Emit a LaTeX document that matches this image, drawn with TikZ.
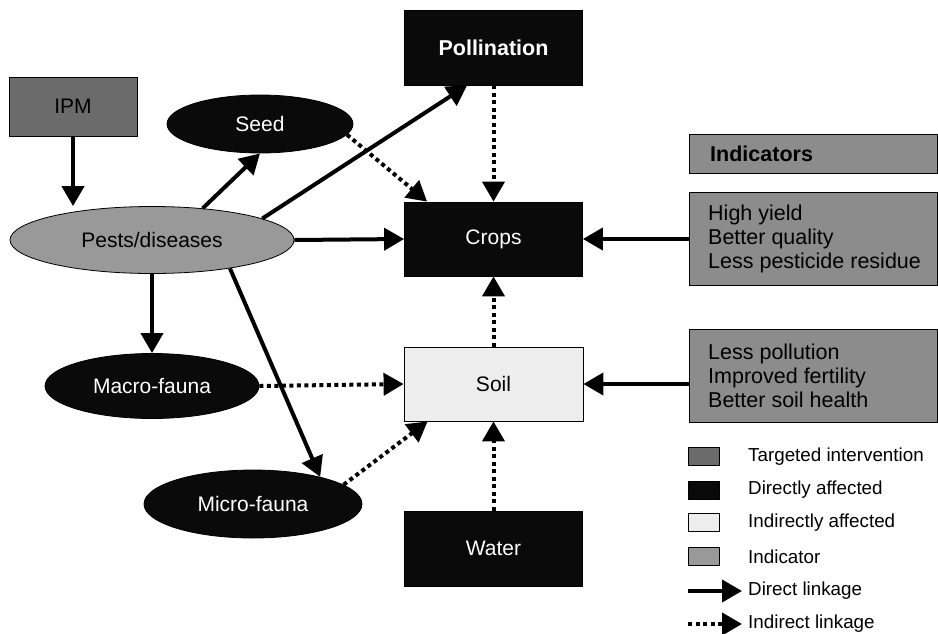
\documentclass[tikz,border=0pt]{standalone}
\usepackage{fontspec}
\setmainfont{Liberation Sans}
\usetikzlibrary{arrows.meta,calc,shapes.geometric}

\definecolor{ipmgray}{gray}{0.42}
\definecolor{pestgray}{gray}{0.60}
\definecolor{indgray}{gray}{0.55}
\definecolor{soilgray}{gray}{0.93}
\definecolor{nearblack}{gray}{0.04}

\begin{document}
\begin{tikzpicture}[x=1pt,y=-1pt,
  every node/.style={font=\fontsize{21}{24}\selectfont, inner sep=0pt},
  boxnode/.style={draw=black, line width=0.8pt, minimum width=178pt, minimum height=75pt},
  darkbox/.style={boxnode, fill=nearblack, text=white},
  ovalnode/.style={ellipse, draw=black, line width=0.8pt},
  darkoval/.style={ovalnode, fill=nearblack, text=white},
  indbox/.style={draw=black, line width=0.8pt, fill=indgray, anchor=north west,
    minimum width=248pt},
  indtext/.style={anchor=west, align=left, font=\fontsize{21.5}{24.3}\selectfont},
  swatch/.style={draw=black, line width=1pt, minimum width=31pt, minimum height=18pt},
  legtext/.style={anchor=west, font=\fontsize{18.8}{22}\selectfont},
  direct/.style={line width=4pt, -{Triangle[width=22pt,length=20pt]}},
  indirect/.style={direct, dash pattern=on 4pt off 3.5pt}
]
\path[use as bounding box] (0,0) rectangle (938,633);

% intervention and pest nodes
\node[boxnode, fill=ipmgray, minimum width=128pt, minimum height=59pt] (ipm) at (73,106.5) {IPM};
\node[ovalnode, fill=pestgray, minimum width=284pt, minimum height=67pt] (pests) at (152,240) {Pests/diseases};
\node[darkoval, minimum width=186pt, minimum height=58pt] (seed) at (260,124) {Seed};
\node[darkoval, minimum width=214pt, minimum height=65pt] (macro) at (152,386) {Macro-fauna};
\node[darkoval, minimum width=218pt, minimum height=68pt] (micro) at (253,504) {Micro-fauna};

% affected components
\node[darkbox, font=\bfseries\fontsize{21.5}{24}\selectfont] (poll) at (493.5,47.5) {Pollination};
\node[darkbox, minimum height=74pt] (crops) at (493.5,239) {Crops};
\node[boxnode, fill=soilgray, minimum width=179pt, minimum height=74pt] (soil) at (493.5,384) {Soil};
\node[darkbox] (water) at (493.5,548.5) {Water};

% indicators
\node[indbox, minimum height=39pt] (indhead) at (689,134) {};
\node[indtext, font=\bfseries\fontsize{21.5}{24}\selectfont] (indheadtext) at ([xshift=21pt]indhead.west) {Indicators};
\node[indbox, minimum height=93pt] (indcrops) at (689,192) {};
\node[indtext] (indcropstext) at ([xshift=19pt]indcrops.west) {High yield\\Better quality\\Less pesticide residue};
\node[indbox, minimum height=93pt] (indsoil) at (689,329) {};
\node[indtext] (indsoiltext) at ([xshift=19pt]indsoil.west) {Less pollution\\Improved fertility\\Better soil health};

% direct linkages
\draw[direct] (ipm.south) -- (pests.north -| ipm.south);
\draw[direct] (pests.32) -- (seed.south);
\draw[direct] (pests.11) -- ([xshift=63pt]poll.south west);
\draw[direct] (pests.east) -- (crops.west);
\draw[direct] (pests.south) -- (macro.north);
\draw[direct] (pests.-20) -- (micro.22);
\draw[direct] (indcrops.west |- crops.east) -- (crops.east);
\draw[direct] (indsoil.west |- soil.east) -- (soil.east);

% indirect linkages
\draw[indirect] (seed.-7) -- ([xshift=23pt]crops.north west);
\draw[indirect] (poll.south) -- (crops.north);
\draw[indirect] (soil.north) -- (crops.south);
\draw[indirect] (macro.east) -- (soil.west);
\draw[indirect] (micro.12) -- ([xshift=24pt]soil.south west);
\draw[indirect] (water.north) -- (soil.south);

% legend
\node[swatch, fill=ipmgray] (sw1) at (703.5,456) {};
\node[swatch, fill=nearblack] (sw2) at (703.5,490) {};
\node[swatch, fill=soilgray] (sw3) at (703.5,522.5) {};
\node[swatch, fill=pestgray] (sw4) at (703.5,556.5) {};
\node[legtext] (lt1) at (748,457) {Targeted intervention};
\node[legtext] (lt2) at (748,490) {Directly affected};
\node[legtext] (lt3) at (748,523) {Indirectly affected};
\node[legtext] (lt4) at (748,557) {Indicator};
\node[legtext] (lt5) at (748,591) {Direct linkage};
\node[legtext] (lt6) at (748,624) {Indirect linkage};
\coordinate (la1) at (688,591);
\coordinate (la2) at (688,624);
\draw[direct] (la1) -- ([xshift=-6pt]lt5.west);
\draw[indirect] (la2) -- ([xshift=-6pt]lt6.west);
\end{tikzpicture}
\end{document}
